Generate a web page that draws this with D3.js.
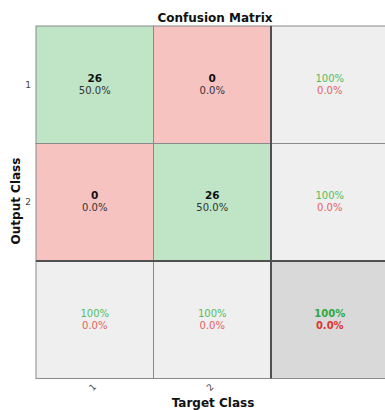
<!DOCTYPE html>
<html>
<head>
<meta charset="utf-8">
<script src="https://cdn.jsdelivr.net/npm/d3@7"></script>
<style>
  html, body { margin: 0; padding: 0; background: #fff; overflow: hidden; }
  svg { display: block; font-family: "DejaVu Sans", sans-serif; }
</style>
</head>
<body>
<svg id="chart" width="385" height="410"></svg>
<script>
// Class labels and the confusion counts (rows = output class, cols = target class)
const classes = ["1", "2"];
const counts = [
  [26, 0],
  [0, 26]
];
const titleText = "Confusion Matrix";
const xTitle = "Target Class";
const yTitle = "Output Class";

const svg = d3.select("#chart");
const margin = { left: 36, top: 26 };
const cellSize = 117.5;
const n = classes.length;
const total = d3.sum(counts.flat());

// Band scales over classes plus the summary row/column
const keys = [...classes, "sum"];
const x = d3.scaleBand().domain(keys).range([margin.left, margin.left + cellSize * (n + 1)]);
const y = d3.scaleBand().domain(keys).range([margin.top, margin.top + cellSize * (n + 1)]);

const colors = {
  correct: "#bfe5c6",
  wrong: "#f6c3c1",
  summary: "#efefef",
  overall: "#d9d9d9",
  green: "#52bd60",
  red: "#e4625e",
  greenStrong: "#2fa83f",
  redStrong: "#dd3530"
};

const fmt = v => (v === 1 ? "100%" : (v * 100).toFixed(1) + "%");

// Build the cell list
const cells = [];
for (let r = 0; r < n; r++) {
  for (let c = 0; c < n; c++) {
    cells.push({ row: classes[r], col: classes[c], type: r === c ? "correct" : "wrong",
      count: counts[r][c], pct: counts[r][c] / total });
  }
  // row summary (precision)
  const rowSum = d3.sum(counts[r]);
  const p = rowSum ? counts[r][r] / rowSum : 0;
  cells.push({ row: classes[r], col: "sum", type: "summary", good: p, bad: 1 - p });
}
for (let c = 0; c < n; c++) {
  const colSum = d3.sum(counts, row => row[c]);
  const p = colSum ? counts[c][c] / colSum : 0;
  cells.push({ row: "sum", col: classes[c], type: "summary", good: p, bad: 1 - p });
}
const correctTotal = d3.sum(classes, (d, i) => counts[i][i]);
const acc = correctTotal / total;
cells.push({ row: "sum", col: "sum", type: "overall", good: acc, bad: 1 - acc });

const g = svg.append("g");
const cellG = g.selectAll("g.cell").data(cells).join("g").attr("class", "cell");

cellG.append("rect")
  .attr("x", d => x(d.col))
  .attr("y", d => y(d.row))
  .attr("width", x.bandwidth())
  .attr("height", y.bandwidth())
  .attr("fill", d => colors[d.type])
  .attr("stroke", "#8a8a8a")
  .attr("stroke-width", 1);

// Count + percentage text for the main cells
cellG.filter(d => d.type === "correct" || d.type === "wrong").each(function(d) {
  const cx = x(d.col) + x.bandwidth() / 2;
  const cy = y(d.row) + y.bandwidth() / 2;
  const s = d3.select(this);
  s.append("text").attr("x", cx).attr("y", cy - 3).attr("text-anchor", "middle")
    .attr("font-size", 10.5).attr("font-weight", "bold").attr("fill", "#111").text(d.count);
  s.append("text").attr("x", cx).attr("y", cy + 9).attr("text-anchor", "middle")
    .attr("font-size", 10).attr("fill", "#333").text(fmt(d.pct));
});

// Summary cells: correct rate in green, error rate in red
cellG.filter(d => d.type === "summary" || d.type === "overall").each(function(d) {
  const cx = x(d.col) + x.bandwidth() / 2;
  const cy = y(d.row) + y.bandwidth() / 2;
  const strong = d.type === "overall";
  const s = d3.select(this);
  s.append("text").attr("x", cx).attr("y", cy - 3).attr("text-anchor", "middle")
    .attr("font-size", 10).attr("font-weight", strong ? "bold" : "normal")
    .attr("fill", strong ? colors.greenStrong : colors.green).text(fmt(d.good));
  s.append("text").attr("x", cx).attr("y", cy + 9).attr("text-anchor", "middle")
    .attr("font-size", 10).attr("font-weight", strong ? "bold" : "normal")
    .attr("fill", strong ? colors.redStrong : colors.red).text(fmt(d.bad));
});

// Heavier separators around the summary row and column
const sepX = x("sum"), sepY = y("sum");
g.append("line").attr("x1", sepX).attr("x2", sepX)
  .attr("y1", y.range()[0]).attr("y2", y.range()[1])
  .attr("stroke", "#505050").attr("stroke-width", 2);
g.append("line").attr("x1", x.range()[0]).attr("x2", x.range()[1])
  .attr("y1", sepY).attr("y2", sepY)
  .attr("stroke", "#505050").attr("stroke-width", 2);

// Axes tick labels
const xAxis = d3.axisBottom(x.copy().domain(classes).range([x.range()[0], x("sum")]))
  .tickSize(0).tickPadding(0);
const xa = svg.append("g").attr("transform", `translate(0,${y.range()[1]})`).call(xAxis);
xa.select(".domain").remove();
xa.selectAll("text")
  .attr("font-family", "DejaVu Sans").attr("font-size", 9).attr("fill", "#444")
  .attr("text-anchor", "middle").attr("dy", 0)
  .attr("transform", "translate(0,11) rotate(-45)");

const yAxis = d3.axisLeft(y.copy().domain(classes).range([y.range()[0], y("sum")]))
  .tickSize(0).tickPadding(5);
const ya = svg.append("g").attr("transform", `translate(${x.range()[0]},0)`).call(yAxis);
ya.select(".domain").remove();
ya.selectAll("text").attr("font-family", "DejaVu Sans").attr("font-size", 9).attr("fill", "#444");

// Titles
svg.append("text").attr("x", 215).attr("y", 22).attr("text-anchor", "middle")
  .attr("font-size", 12).attr("font-weight", "bold").attr("fill", "#111").text(titleText);
svg.append("text").attr("x", 213).attr("y", 407).attr("text-anchor", "middle")
  .attr("font-size", 12).attr("font-weight", "bold").attr("fill", "#111").text(xTitle);
svg.append("text").attr("transform", "translate(20,201) rotate(-90)").attr("text-anchor", "middle")
  .attr("font-size", 12).attr("font-weight", "bold").attr("fill", "#111").text(yTitle);
</script>
</body>
</html>
